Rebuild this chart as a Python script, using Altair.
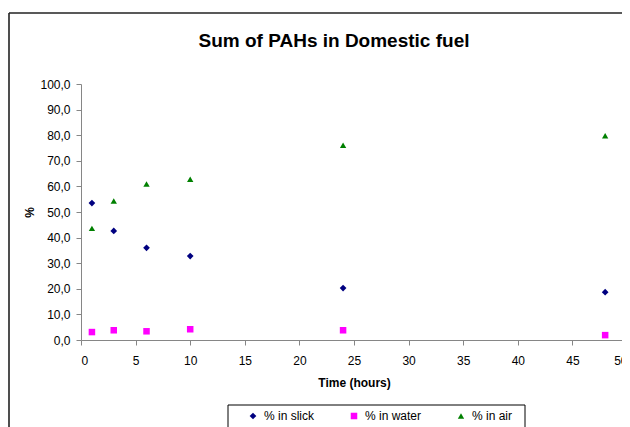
import altair as alt
import pandas as pd

hours = [1, 3, 6, 10, 24, 48]
slick = [53.5, 42.6, 36.0, 32.8, 20.3, 18.7]
water = [3.1, 3.8, 3.4, 4.2, 3.8, 1.9]
air = [43.6, 54.3, 60.9, 62.8, 76.1, 79.8]
series = ["% in slick", "% in water", "% in air"]
colors = ["#000080", "#FF00FF", "#008000"]
shapes = ["diamond", "square", "triangle-up"]
marker_sizes = [45, 40, 75]
x_ticks = list(range(0, 51, 5))
y_ticks = list(range(0, 101, 10))
title_text = "Sum of PAHs in Domestic fuel"

rows = []
for name, vals in zip(series, [slick, water, air]):
    for h, v in zip(hours, vals):
        rows.append({"Time": h, "Pct": v, "Series": name})
df = pd.DataFrame(rows)

FONT = "Liberation Sans"
W, H = 541, 256

leg = alt.Legend(
    title=None, orient="none", legendX=166, legendY=326, direction="horizontal",
    columnPadding=33, labelOffset=5, symbolSize=30, labelFontSize=12, labelFont=FONT,
    labelColor="#000000", symbolStrokeWidth=0, padding=0,
)

points = alt.Chart(df).mark_point(filled=True, opacity=1).encode(
    x=alt.X("Time:Q", scale=alt.Scale(domain=[0, 50], range=[0, 546], nice=False),
            axis=alt.Axis(values=x_ticks, format="d", title="Time (hours)", tickSize=5,
                          labelPadding=10, titleX=273, titleY=42, titleBaseline="middle",
                          titleAlign="center")),
    y=alt.Y("Pct:Q", scale=alt.Scale(domain=[0, 100], nice=False),
            axis=alt.Axis(values=y_ticks, labelExpr="replace(format(datum.value, '.1f'), '.', ',')",
                          title="%", tickSize=5, labelPadding=6, titleAngle=270, titleX=-52,
                          titleY=128, titleAlign="center", titleBaseline="middle")),
    color=alt.Color("Series:N", scale=alt.Scale(domain=series, range=colors), legend=leg),
    shape=alt.Shape("Series:N", scale=alt.Scale(domain=series, range=shapes), legend=leg),
    size=alt.Size("Series:N", scale=alt.Scale(domain=series, range=marker_sizes), legend=None),
)

one = pd.DataFrame({"a": [0]})

title = alt.Chart(one).mark_text(
    text=title_text, font=FONT, fontSize=19, fontWeight="bold", align="center",
    baseline="middle", color="#000000",
).encode(x=alt.value(253), y=alt.value(-43.5))

box = alt.Chart(one).mark_rect(filled=False, stroke="#000000", strokeWidth=1).encode(
    x=alt.value(147), x2=alt.value(444), y=alt.value(321), y2=alt.value(380))

left_border = alt.Chart(one).mark_rule(color="#222222", strokeWidth=1.6).encode(
    x=alt.value(-72), y=alt.value(-71), y2=alt.value(400))
top_border = alt.Chart(one).mark_rule(color="#222222", strokeWidth=1.6).encode(
    x=alt.value(-72), x2=alt.value(600), y=alt.value(-71))

chart = alt.layer(left_border, top_border, title, box, points).properties(
    width=W, height=H,
    autosize=alt.AutoSizeParams(type="none"),
    padding={"left": 73, "top": 76, "right": 0, "bottom": 87},
).configure_view(stroke=None).configure_axis(
    grid=False, domainColor="#868686", tickColor="#868686", labelColor="#000000",
    labelFont=FONT, labelFontSize=12, titleFont=FONT, titleFontSize=12,
    titleFontWeight="bold", titleColor="#000000",
)

chart.save("out.html", embed_options={"renderer": "svg", "actions": False})
